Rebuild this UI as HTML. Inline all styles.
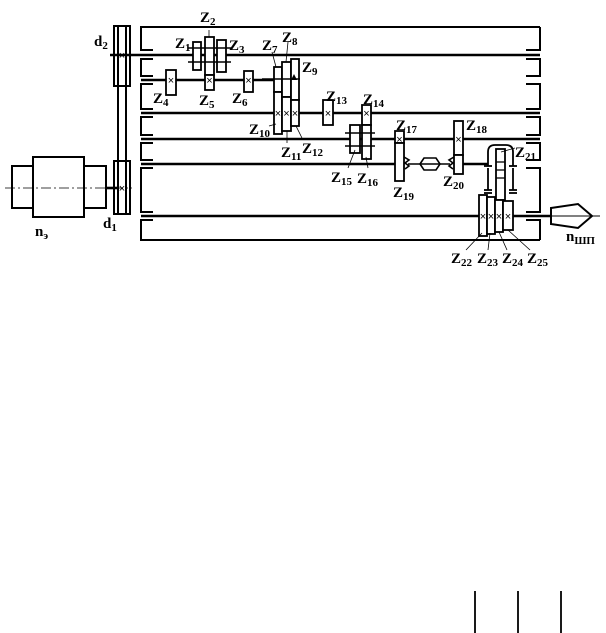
<!DOCTYPE html>
<html><head><meta charset="utf-8"><style>
html,body{margin:0;padding:0;background:#fff;width:606px;height:633px;overflow:hidden}
svg{display:block}
text{font-family:"Liberation Serif",serif;font-weight:bold;font-size:15px;fill:#000}
.s{font-size:11px}
.x{font-family:"Liberation Sans",sans-serif;font-size:11px;font-weight:normal}
</style></head><body>
<svg width="606" height="633" viewBox="0 0 606 633" xmlns="http://www.w3.org/2000/svg">
<g fill="none" stroke="#000" stroke-width="2">
<path d="M540,27 H141 V50 H153"/>
<path d="M153,59 H141 V76 H153"/>
<path d="M153,84 H141 V109 H153"/>
<path d="M153,117 H141 V135 H153"/>
<path d="M153,143 H141 V160 H153"/>
<path d="M153,168 H141 V212 H153"/>
<path d="M153,220 H141 V240 H540"/>
<path d="M540,27 V50 H526"/>
<path d="M526,59 H540 V76 H526"/>
<path d="M526,84 H540 V109 H526"/>
<path d="M526,117 H540 V135 H526"/>
<path d="M526,143 H540 V160 H526"/>
<path d="M526,168 H540 V212 H526"/>
<path d="M526,220 H540 V240"/>
</g>
<g stroke="#000" stroke-width="2.6">
<line x1="110" y1="55" x2="540" y2="55"/>
<line x1="141" y1="80" x2="280" y2="80"/>
<line x1="141" y1="113" x2="540" y2="113"/>
<line x1="141" y1="139" x2="540" y2="139"/>
<line x1="141" y1="164" x2="395" y2="164"/>
<line x1="463" y1="164" x2="488" y2="164"/>
<line x1="141" y1="216" x2="588" y2="216"/>
<line x1="106" y1="188" x2="118" y2="188"/>
</g>
<g fill="#fff" stroke="#000" stroke-width="2">
<rect x="12" y="166" width="21" height="42"/>
<rect x="33" y="157" width="51" height="60"/>
<rect x="84" y="166" width="22" height="42"/>
</g>
<line x1="5" y1="188" x2="132" y2="188" stroke="#000" stroke-width="0.8" stroke-dasharray="10,3,2,3"/>
<g fill="none" stroke="#000" stroke-width="2">
<rect x="114" y="26" width="16" height="60"/>
<rect x="114" y="161" width="16" height="53"/>
<line x1="118" y1="26" x2="118" y2="214"/>
<line x1="126" y1="26" x2="126" y2="214"/>
</g>
<g fill="#fff" stroke="#000" stroke-width="1.8">
<rect x="193" y="42" width="8" height="28"/>
<rect x="205" y="37" width="9" height="38"/>
<rect x="217" y="40" width="9" height="32"/>
<rect x="205" y="75" width="9" height="15"/>
<rect x="166" y="70" width="10" height="25"/>
<rect x="244" y="71" width="9" height="21"/>
<rect x="274" y="67" width="8" height="25"/>
<rect x="274" y="92" width="8" height="42"/>
<rect x="282" y="62" width="9" height="35"/>
<rect x="282" y="97" width="9" height="34"/>
<rect x="291" y="59" width="8" height="41"/>
<rect x="291" y="100" width="8" height="26"/>
<rect x="323" y="100" width="10" height="25"/>
<rect x="362" y="105" width="9" height="20"/>
<rect x="362" y="125" width="9" height="34"/>
<rect x="350" y="125" width="10" height="28"/>
<rect x="395" y="131" width="9" height="12"/>
<rect x="395" y="143" width="9" height="38"/>
<rect x="454" y="121" width="9" height="34"/>
<rect x="454" y="155" width="9" height="19"/>
</g>
<g stroke="#000" stroke-width="1.5">
<line x1="188" y1="48" x2="231" y2="48"/><line x1="188" y1="62" x2="231" y2="62"/>
<line x1="345" y1="133" x2="375" y2="133"/><line x1="345" y1="146" x2="375" y2="146"/>
<line x1="262" y1="79" x2="300" y2="79"/>
</g>
<path d="M291,80 L294,74 L297,80 Z" fill="#000"/>
<g fill="none" stroke="#000" stroke-width="1.6">
<path d="M404,157 l5,3 l-4,3 l4,3 l-4,3"/>
<path d="M454,157 l-5,3 l4,3 l-4,3 l4,3"/>
<path d="M408,164 H420 M440,164 H450"/>
<path d="M420,164 l4,-6 h12 l4,6 l-4,6 h-12 z"/>
<line x1="420" y1="164" x2="440" y2="164"/>
</g>
<g fill="none" stroke="#000" stroke-width="1.8">
<path d="M488,166 V152 q0,-7 7,-7 h11 q7,0 7,7 V166"/>
<line x1="484" y1="166" x2="492" y2="166"/><line x1="509" y1="166" x2="517" y2="166"/>
<line x1="488" y1="168" x2="488" y2="190"/><line x1="513" y1="168" x2="513" y2="190"/>
<line x1="484" y1="190" x2="492" y2="190"/><line x1="509" y1="190" x2="517" y2="190"/>
<line x1="484" y1="193" x2="492" y2="193"/><line x1="509" y1="193" x2="517" y2="193"/>
</g>
<g fill="#fff" stroke="#000" stroke-width="1.8">
<rect x="496" y="149" width="9" height="51"/>
<rect x="479" y="195" width="8" height="41"/>
<rect x="487" y="197" width="8" height="37"/>
<rect x="495" y="200" width="8" height="32"/>
<rect x="503" y="201" width="10" height="29"/>
</g>
<g stroke="#000" stroke-width="1.3">
<line x1="496" y1="162" x2="505" y2="162"/><line x1="496" y1="170" x2="505" y2="170"/><line x1="496" y1="178" x2="505" y2="178"/>
</g>
<path d="M551,208 L578,204 L592,216 L578,228 L551,224 Z" fill="#fff" stroke="#000" stroke-width="2"/>
<line x1="540" y1="216" x2="600" y2="216" stroke="#000" stroke-width="1"/>
<g text-anchor="middle">
<text class="x" x="122" y="59">×</text>
<text class="x" x="122" y="192">×</text>
<text class="x" x="171" y="84">×</text>
<text class="x" x="209.5" y="84">×</text>
<text class="x" x="248.5" y="84">×</text>
<text class="x" x="278" y="117">×</text>
<text class="x" x="286.5" y="117">×</text>
<text class="x" x="295" y="117">×</text>
<text class="x" x="328" y="117">×</text>
<text class="x" x="366.5" y="117">×</text>
<text class="x" x="399.5" y="143">×</text>
<text class="x" x="458.5" y="143">×</text>
<text class="x" x="483" y="220">×</text>
<text class="x" x="491" y="220">×</text>
<text class="x" x="499" y="220">×</text>
<text class="x" x="508" y="220">×</text>
</g>
<g stroke="#000" stroke-width="0.8">
<line x1="209" y1="37" x2="209" y2="30"/>
<line x1="276" y1="67" x2="272" y2="52"/>
<line x1="286" y1="62" x2="288" y2="42"/>
<line x1="276" y1="124" x2="269" y2="126"/>
<line x1="287" y1="131" x2="287" y2="143"/>
<line x1="296" y1="126" x2="302" y2="138"/>
<line x1="355" y1="150" x2="348" y2="168"/>
<line x1="366" y1="157" x2="368" y2="168"/>
<line x1="501" y1="152" x2="515" y2="148"/>
<line x1="482" y1="233" x2="466" y2="250"/>
<line x1="490" y1="233" x2="488" y2="250"/>
<line x1="499" y1="232" x2="507" y2="250"/>
<line x1="508" y1="230" x2="530" y2="250"/>
</g>
<text x="94" y="46">d<tspan class="s" dy="3">2</tspan></text>
<text x="103" y="228">d<tspan class="s" dy="3">1</tspan></text>
<text x="35" y="236">n<tspan class="s" dy="3">э</tspan></text>
<text x="566" y="241">n<tspan class="s" dy="3">ШП</tspan></text>
<text x="175" y="48">Z<tspan class="s" dy="3">1</tspan></text>
<text x="200" y="22">Z<tspan class="s" dy="3">2</tspan></text>
<text x="229" y="50">Z<tspan class="s" dy="3">3</tspan></text>
<text x="153" y="103">Z<tspan class="s" dy="3">4</tspan></text>
<text x="199" y="105">Z<tspan class="s" dy="3">5</tspan></text>
<text x="232" y="103">Z<tspan class="s" dy="3">6</tspan></text>
<text x="262" y="50">Z<tspan class="s" dy="3">7</tspan></text>
<text x="282" y="42">Z<tspan class="s" dy="3">8</tspan></text>
<text x="302" y="72">Z<tspan class="s" dy="3">9</tspan></text>
<text x="249" y="134">Z<tspan class="s" dy="3">10</tspan></text>
<text x="281" y="157">Z<tspan class="s" dy="3">11</tspan></text>
<text x="302" y="153">Z<tspan class="s" dy="3">12</tspan></text>
<text x="326" y="101">Z<tspan class="s" dy="3">13</tspan></text>
<text x="363" y="104">Z<tspan class="s" dy="3">14</tspan></text>
<text x="331" y="182">Z<tspan class="s" dy="3">15</tspan></text>
<text x="357" y="183">Z<tspan class="s" dy="3">16</tspan></text>
<text x="396" y="130">Z<tspan class="s" dy="3">17</tspan></text>
<text x="466" y="130">Z<tspan class="s" dy="3">18</tspan></text>
<text x="393" y="197">Z<tspan class="s" dy="3">19</tspan></text>
<text x="443" y="186">Z<tspan class="s" dy="3">20</tspan></text>
<text x="515" y="157">Z<tspan class="s" dy="3">21</tspan></text>
<text x="451" y="263">Z<tspan class="s" dy="3">22</tspan></text>
<text x="477" y="263">Z<tspan class="s" dy="3">23</tspan></text>
<text x="502" y="263">Z<tspan class="s" dy="3">24</tspan></text>
<text x="527" y="263">Z<tspan class="s" dy="3">25</tspan></text>
<g stroke="#000" stroke-width="1.8">
<line x1="475" y1="591" x2="475" y2="633"/>
<line x1="518" y1="591" x2="518" y2="633"/>
<line x1="561" y1="591" x2="561" y2="633"/>
</g>
</svg>
</body></html>
